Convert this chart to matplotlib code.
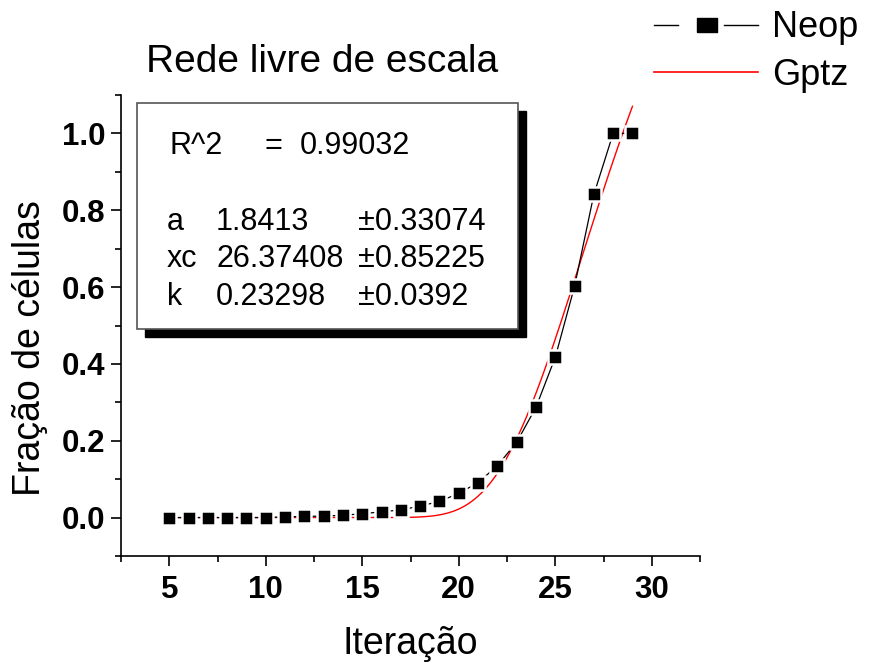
import numpy as np
import matplotlib
matplotlib.use('Agg')
import matplotlib.pyplot as plt
from matplotlib.patches import Rectangle
from matplotlib.lines import Line2D

plt.rcParams['font.family'] = ['Liberation Sans', 'DejaVu Sans']

# Neop simulation: fraction of cells per iteration
iteracao = [5, 6, 7, 8, 9, 10, 11, 12, 13, 14, 15, 16, 17, 18, 19, 20,
            21, 22, 23, 24, 25, 26, 27, 28, 29]
fracao = [0.0, 0.0, 0.0, 0.0, 0.0, 0.0, 0.002, 0.003, 0.004, 0.006, 0.010,
          0.015, 0.020, 0.030, 0.042, 0.063, 0.091, 0.135, 0.196, 0.287,
          0.417, 0.602, 0.841, 1.0, 1.0]

# Gompertz fit parameters
r2 = 0.99032
a, a_err = 1.8413, 0.33074
xc, xc_err = 26.37408, 0.85225
k, k_err = 0.23298, 0.0392

W, H = 869, 663
fig = plt.figure(figsize=(W / 100, H / 100), dpi=100)
ax = fig.add_axes([121 / W, 1 - 556 / H, (700 - 121) / W, (556 - 95) / H])

def px(x, y):
    return x / W, 1 - y / H

# white marker edge leaves a small gap between squares and the line
ax.plot(iteracao, fracao, '-', color='black', lw=0.9, marker='s',
        markersize=9.5, markerfacecolor='black', markeredgecolor='white',
        markeredgewidth=1.8, zorder=3)

xf = np.linspace(5, 29, 300)
yf = a * np.exp(-np.exp(-k * (xf - xc)))
ax.plot(xf, yf, '-', color='red', lw=1.0, zorder=2)

ax.set_xlim(2.5, 32.5)
ax.set_ylim(-0.1, 1.1)
ax.set_xticks([5, 10, 15, 20, 25, 30])
ax.set_xticks(np.arange(2.5, 33, 2.5), minor=True)
ax.set_yticks([0.0, 0.2, 0.4, 0.6, 0.8, 1.0])
ax.set_yticks(np.arange(-0.1, 1.11, 0.1), minor=True)
ax.yaxis.set_major_formatter(matplotlib.ticker.FormatStrFormatter('%.1f'))
for s in ['top', 'right']:
    ax.spines[s].set_visible(False)
for s in ['left', 'bottom']:
    ax.spines[s].set_linewidth(1.2)
ax.tick_params(which='major', direction='out', length=7, width=1.2,
               labelsize=22.5)
ax.tick_params(which='minor', direction='out', length=4, width=1.2)
ax.tick_params(axis='y', pad=4)
ax.tick_params(axis='x', pad=7)
for lab in ax.get_xticklabels() + ax.get_yticklabels():
    lab.set_fontweight('bold')

ax.set_xlabel('Iteração', fontsize=27, labelpad=15)
ax.set_ylabel('Fração de células', fontsize=27, labelpad=10)
ax.yaxis.label.set_y(0.45)

fig.text(*px(322, 72), 'Rede livre de escala', fontsize=28,
         ha='center', va='baseline')

# fit results box with drop shadow
bx0, by0, bx1, by1 = 137, 103, 518, 329
fig.patches.append(Rectangle(px(bx0 + 8, by1 + 8), (bx1 - bx0) / W,
                             (by1 - by0) / H, transform=fig.transFigure,
                             facecolor='black', edgecolor='black', zorder=4))
fig.patches.append(Rectangle(px(bx0, by1), (bx1 - bx0) / W,
                             (by1 - by0) / H, transform=fig.transFigure,
                             facecolor='white', edgecolor='#555555', lw=1.2,
                             zorder=5))

fs = 22
fig.text(*px(169, 146), 'R^2', fontsize=fs, va='center', zorder=6)
fig.text(*px(265, 146), '=', fontsize=fs, va='center', zorder=6)
fig.text(*px(300, 146), f'{r2:.5f}', fontsize=fs, va='center', zorder=6)
rows = [('a', f'{a}', f'±{a_err}'),
        ('xc', f'{xc:.5f}', f'±{xc_err}'),
        ('k', f'{k}', f'±{k_err}')]
for i, (name, val, err) in enumerate(rows):
    yy = 222 + i * 37.5
    fig.text(*px(167, yy), name, fontsize=fs, va='center', zorder=6)
    fig.text(*px(216, yy), val, fontsize=fs, va='center', zorder=6)
    fig.text(*px(358, yy), err, fontsize=fs, va='center', zorder=6)

# legend drawn in figure pixels
leg_sq = [(-1.3, -1), (1.3, -1), (1.3, 1), (-1.3, 1), (-1.3, -1)]
for x0, x1 in [(654, 678), (724, 758)]:
    fig.add_artist(Line2D([x0 / W, x1 / W], [1 - 25 / H, 1 - 25 / H],
                          transform=fig.transFigure, color='black', lw=1.0))
fig.add_artist(Line2D([707 / W], [1 - 25 / H], transform=fig.transFigure,
                      marker=leg_sq, markersize=14, color='black', lw=0))
fig.add_artist(Line2D([654 / W, 758 / W], [1 - 72 / H, 1 - 72 / H],
                      transform=fig.transFigure, color='red', lw=1.2))
fig.text(*px(772, 37), 'Neop', fontsize=26, va='baseline')
fig.text(*px(772, 85), 'Gptz', fontsize=26, va='baseline')

fig.savefig('out.png', dpi=100)
